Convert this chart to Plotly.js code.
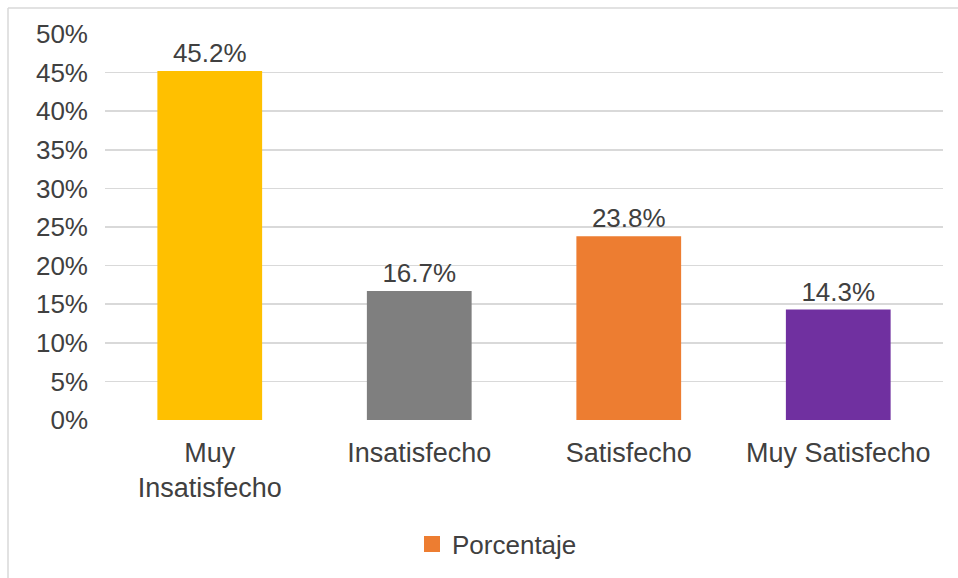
<!DOCTYPE html>
<html><head><meta charset="utf-8">
<script src="https://cdn.plot.ly/plotly-3.0.1.min.js"></script>
<style>html,body{margin:0;padding:0;background:#fff;}#chart{width:958px;height:578px;}</style>
</head><body><div id="chart"></div>
<script>
const categories = ["Muy<br>Insatisfecho", "Insatisfecho", "Satisfecho", "Muy Satisfecho"];
const values = [45.2, 16.7, 23.8, 14.3];
const barColors = ["#FFC000", "#7F7F7F", "#ED7D31", "#7030A0"];
const seriesName = "Porcentaje";
const legendColor = "#ED7D31";
const tickVals = [0,5,10,15,20,25,30,35,40,45,50];
const tickText = tickVals.map(v => v + "%");

const W = 958, H = 578;
const L = 105, R = 943, T = 34, B = 421;
const pw = R - L, ph = B - T;
function px(x){return (x - L)/pw;}
function py(y){return (B - y)/ph;}
const FONT = "Liberation Sans, Arial, sans-serif";

const trace = {
  type: "bar",
  x: categories,
  y: values,
  name: seriesName,
  marker: {color: barColors},
  text: values.map(v => v.toFixed(1) + "%"),
  textposition: "outside",
  cliponaxis: false,
  textfont: {family: FONT, size: 26, color: "#404040"},
  hoverinfo: "skip",
  showlegend: false
};
const legendTrace = {
  type: "scatter", mode: "markers",
  x: [null], y: [null],
  name: seriesName,
  marker: {symbol: "square", size: 16, color: legendColor},
  hoverinfo: "skip",
  showlegend: true
};

const layout = {
  width: W, height: H,
  margin: {l: L, r: W - R, t: T, b: H - B, pad: 0},
  paper_bgcolor: "#fff", plot_bgcolor: "#fff",
  bargap: 0.5,
  font: {family: FONT, color: "#404040"},
  xaxis: {
    tickfont: {size: 27, color: "#404040"},
    showgrid: false, zeroline: false, showline: false, ticks: "",
    ticklabelstandoff: 14,
    automargin: false
  },
  yaxis: {
    range: [0, 50], tickvals: tickVals, ticktext: tickText,
    tickfont: {size: 26, color: "#404040"},
    showgrid: true, gridcolor: "#D9D9D9", gridwidth: 1.5,
    zeroline: false, showline: false, ticks: "", ticklabelstandoff: 16,
    automargin: false
  },
  showlegend: true,
  legend: {
    orientation: "h", x: px(412), xanchor: "left", y: py(544), yanchor: "middle",
    font: {size: 26, color: "#404040"}, itemwidth: 30
  },
  shapes: [
    {type: "line", xref: "paper", yref: "paper", x0: px(8), x1: px(960), y0: py(8), y1: py(8), line: {color: "#D9D9D9", width: 1.5}},
    {type: "line", xref: "paper", yref: "paper", x0: px(8), x1: px(8), y0: py(8), y1: py(580), line: {color: "#D9D9D9", width: 1.5}}
  ]
};

Plotly.newPlot("chart", [trace, legendTrace], layout, {displayModeBar: false, staticPlot: true});
</script></body></html>
